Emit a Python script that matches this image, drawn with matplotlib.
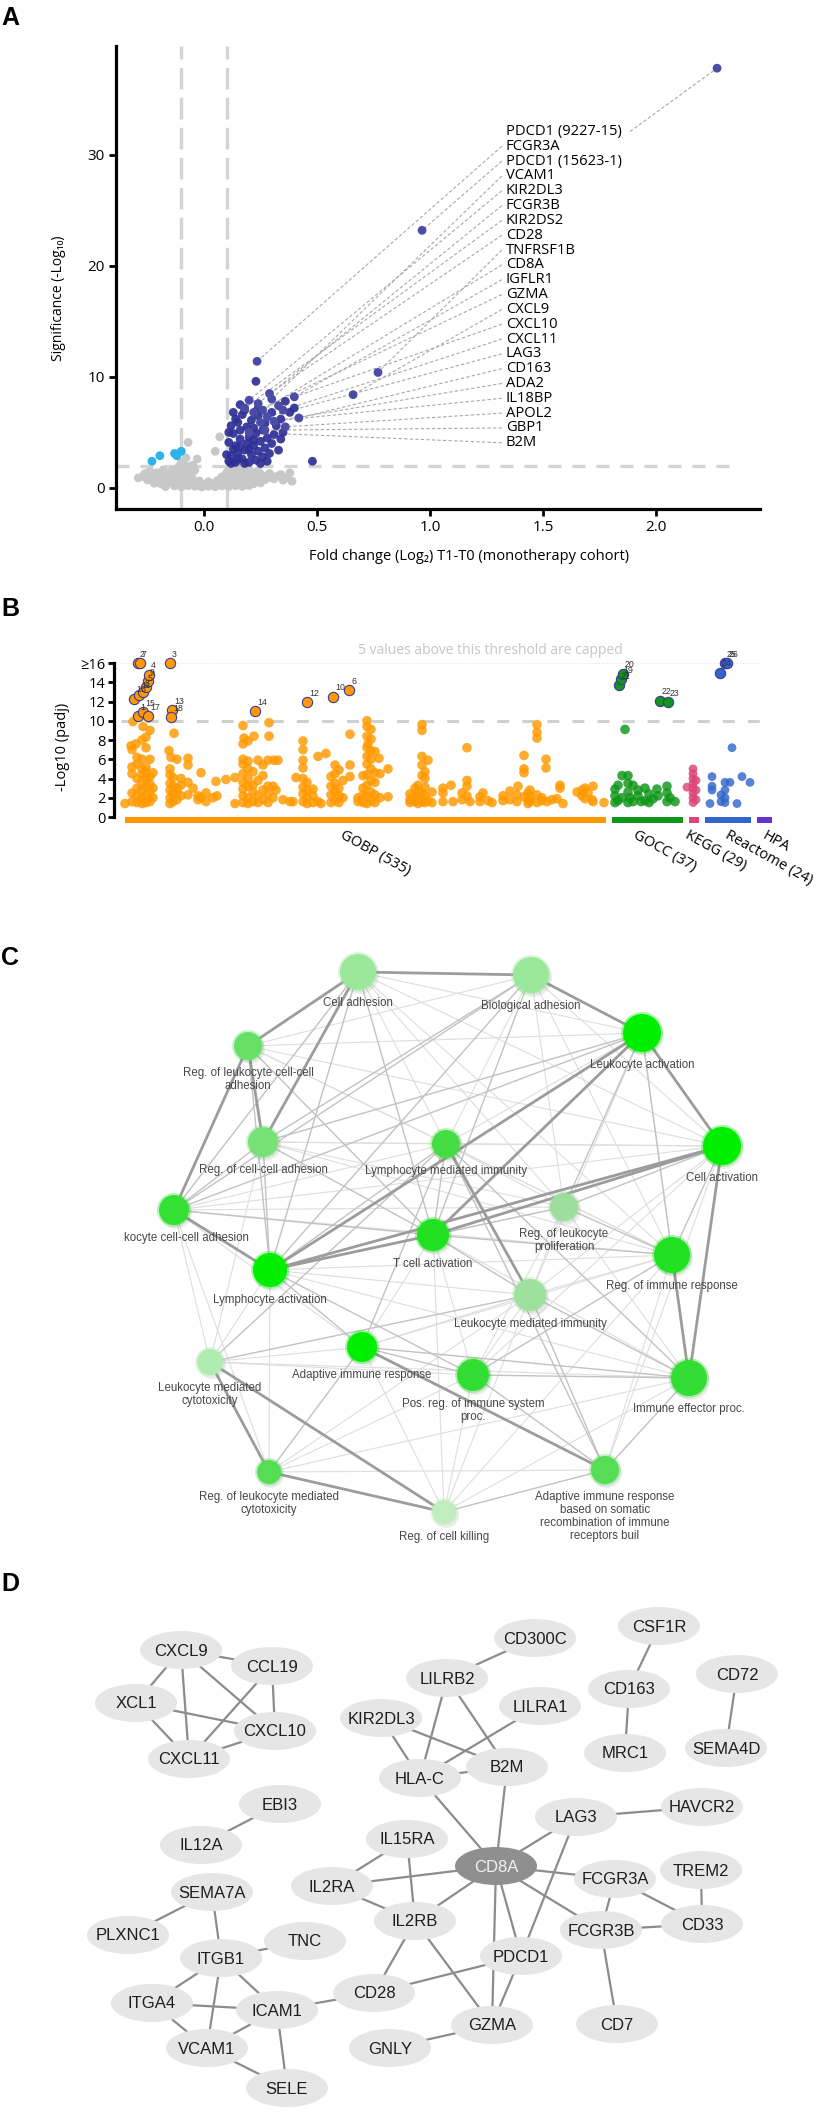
import matplotlib.pyplot as plt
from matplotlib.patches import Circle, Ellipse

W, H = 826, 2114
SANS = ['Open Sans', 'DejaVu Sans']
ARIAL = ['Liberation Sans', 'DejaVu Sans']
NARROW = ['Liberation Sans Narrow', 'Liberation Sans', 'DejaVu Sans']
plt.rcParams['font.family'] = SANS

# ---------------- A: volcano, fold change vs -log10 p ----------------
gray_pts = [
    (-0.17, 0.12), (-0.13, 0.18), (-0.10, 0.10), (-0.07, 0.20), (-0.04, 0.14), (-0.01, 0.08), (0.02, 0.15),
    (0.05, 0.10), (0.08, 0.18), (0.11, 0.12), (0.14, 0.20), (0.17, 0.14), (0.20, 0.22),
    (-0.22, 0.42), (-0.19, 0.35), (-0.16, 0.45), (-0.13, 0.40), (-0.10, 0.48), (-0.07, 0.38), (-0.04, 0.50),
    (0.00, 0.30), (0.04, 0.36), (0.07, 0.44), (0.10, 0.40), (0.13, 0.50), (0.16, 0.42), (0.19, 0.46),
    (0.22, 0.38), (0.25, 0.45),
    (-0.25, 0.72), (-0.21, 0.66), (-0.17, 0.75), (-0.14, 0.70), (-0.11, 0.78), (-0.08, 0.72), (-0.05, 0.80),
    (-0.02, 0.62), (0.06, 0.66), (0.09, 0.74), (0.12, 0.70), (0.15, 0.80), (0.18, 0.72), (0.21, 0.76),
    (0.24, 0.68), (0.27, 0.74), (0.31, 0.82), (0.35, 0.70), (0.39, 0.60),
    (-0.27, 1.05), (-0.23, 0.95), (-0.19, 1.02), (-0.15, 1.00), (-0.12, 1.10), (-0.09, 1.04), (-0.06, 1.15),
    (0.08, 1.00), (0.11, 1.08), (0.14, 1.02), (0.17, 1.12), (0.20, 1.05), (0.23, 0.98), (0.26, 1.06),
    (0.29, 0.95), (0.32, 1.02), (0.36, 0.88),
    (-0.26, 1.30), (-0.21, 1.36), (-0.16, 1.28), (-0.12, 1.40), (-0.08, 1.34), (-0.05, 1.45), (0.10, 1.35),
    (0.13, 1.42), (0.16, 1.30), (0.19, 1.38), (0.22, 1.32), (0.25, 1.25), (0.29, 1.30), (0.34, 1.20),
    (0.38, 1.35),
    (-0.18, 1.62), (-0.14, 1.58), (-0.10, 1.66), (-0.07, 1.70), (-0.04, 1.60), (0.11, 1.65), (0.14, 1.72),
    (0.17, 1.60), (0.20, 1.68), (0.24, 1.55),
    (-0.11, 1.92), (-0.08, 1.98), (-0.05, 2.05), (0.12, 1.95), (0.15, 1.90), (0.18, 1.88),
    (-0.10, 2.30), (-0.07, 4.10), (-0.08, 2.70), (0.07, 4.60), (0.05, 3.30), (-0.29, 0.90), (-0.24, 1.50),
    (-0.03, 2.60), (0.02, 0.55), (-0.02, 0.35),
]
up_pts = [
    (0.11, 2.4), (0.12, 2.9), (0.13, 3.5), (0.11, 4.1), (0.14, 2.3), (0.15, 3.1), (0.16, 4.4), (0.13, 4.9),
    (0.12, 5.6), (0.14, 6.2), (0.17, 2.6), (0.18, 3.4), (0.19, 4.0), (0.16, 5.2), (0.15, 5.9), (0.17, 6.6),
    (0.20, 2.3), (0.21, 3.0), (0.22, 3.8), (0.20, 4.6), (0.19, 5.5), (0.21, 6.1), (0.18, 7.0), (0.23, 2.5),
    (0.24, 3.3), (0.25, 4.2), (0.23, 4.9), (0.22, 5.4), (0.24, 6.5), (0.26, 2.8), (0.27, 3.6), (0.28, 4.5),
    (0.26, 5.2), (0.29, 3.1), (0.30, 4.0), (0.31, 4.8), (0.33, 3.4), (0.34, 4.4), (0.32, 5.6), (0.35, 5.0),
    (0.12, 2.2), (0.14, 3.8), (0.18, 2.2), (0.25, 2.2), (0.28, 2.4), (0.16, 3.7), (0.20, 3.5), (0.13, 6.8),
    (0.16, 7.5), (0.27, 5.8), (0.30, 6.8), (0.38, 6.8), (0.36, 7.8), (0.40, 7.2), (0.10, 3.0), (0.15, 2.6),
    (0.22, 4.3), (0.11, 5.0), (0.24, 7.2), (0.34, 6.2), (0.48, 2.4), (0.23, 9.6),
]
down_pts = [(-0.23, 2.4), (-0.195, 2.9), (-0.13, 3.1), (-0.10, 3.3), (-0.12, 2.9)]

genes = ['PDCD1 (9227-15)', 'FCGR3A', 'PDCD1 (15623-1)', 'VCAM1', 'KIR2DL3', 'FCGR3B', 'KIR2DS2',
         'CD28', 'TNFRSF1B', 'CD8A', 'IGFLR1', 'GZMA', 'CXCL9', 'CXCL10', 'CXCL11', 'LAG3', 'CD163',
         'ADA2', 'IL18BP', 'APOL2', 'GBP1', 'B2M']
gene_fc = [2.27, 0.235, 0.965, 0.30, 0.20, 0.24, 0.18, 0.29, 0.77, 0.26, 0.33, 0.22, 0.66, 0.40,
           0.35, 0.28, 0.42, 0.31, 0.25, 0.36, 0.27, 0.20]
gene_sig = [37.8, 11.4, 23.2, 8.0, 7.9, 7.6, 7.2, 8.5, 10.4, 7.0, 7.4, 6.8, 8.4, 8.2, 7.0, 6.4, 6.3,
            6.0, 5.9, 5.5, 5.2, 5.0]

# ---------------- B: enrichment Manhattan plot ----------------
sources = ['GOBP (535)', 'GOCC (37)', 'KEGG (29)', 'Reactome (24)', 'HPA']
src_colors = ['#ff9900', '#109618', '#dd4477', '#3366cc', '#6633cc']
src_span = [(12, 481), (499, 71), (576, 10), (592, 46), (644, 15)]

gobp_pts = [
    (12, 1.4), (19, 1.6), (19, 2.5), (19, 4.5), (19, 5.2), (19, 7.0), (18, 7.4), (20, 9.9),
    (24, 1.5), (24, 2.2), (24, 3.0), (24, 4.0), (24, 5.5), (24, 6.2), (23, 7.6),
    (29, 1.4), (29, 2.0), (29, 2.8), (29, 3.6), (29, 4.4), (29, 5.0), (29, 6.0), (29, 8.0), (30, 9.4),
    (33, 1.5), (33, 2.3), (33, 3.1), (33, 4.0), (33, 4.7), (33, 5.2), (33, 7.2), (33, 8.3),
    (37, 1.6), (37, 2.6), (37, 3.4), (37, 4.2), (37, 6.0), (37, 9.0), (40, 2.0), (40, 3.0), (40, 4.6),
    (57, 1.4), (57, 2.0), (57, 2.8), (57, 3.5), (57, 4.4), (57, 5.0), (56, 6.9), (58, 6.2),
    (60, 1.6), (60, 2.4), (60, 3.2), (60, 4.1), (61, 8.7), (64, 1.8), (64, 2.6), (64, 3.0), (64, 6.0),
    (68, 2.2), (68, 3.3), (68, 4.0), (75, 5.4), (75, 6.1), (75, 2.3), (75, 3.6),
    (80, 3.0), (85, 2.2), (85, 1.8), (88, 4.6), (88, 2.0), (93, 2.5), (93, 1.6), (100, 2.0), (104, 2.2),
    (103, 3.7), (113, 3.9), (122, 4.1), (122, 1.4),
    (130, 1.5), (130, 2.2), (130, 2.9), (130, 3.6), (130, 4.5), (130, 5.5), (130, 6.0), (130, 7.6),
    (131, 8.2), (130, 9.5), (135, 1.4), (135, 2.0), (135, 3.2), (135, 4.0), (135, 5.0), (135, 5.8),
    (135, 7.9), (140, 1.6), (140, 2.6), (140, 3.3), (140, 4.7), (141, 8.4), (145, 1.5), (145, 2.2),
    (145, 5.9), (145, 3.8), (150, 1.8), (150, 2.8), (150, 4.3), (150, 5.4),
    (155, 1.5), (155, 2.4), (155, 3.2), (155, 5.9), (156, 8.4), (156, 9.8),
    (160, 2.0), (160, 3.2), (161, 5.9), (165, 5.9), (163, 2.8), (170, 1.8), (177, 1.6), (180, 1.6), (183, 4.1),
    (190, 1.6), (190, 2.4), (190, 3.1), (190, 4.0), (190, 5.1), (190, 5.9), (190, 7.0), (190, 7.9),
    (194, 1.4), (194, 2.0), (194, 2.8), (194, 3.6), (200, 1.5), (200, 2.2), (200, 2.9), (205, 1.6),
    (205, 6.3), (213, 6.6), (208, 1.4),
    (218, 1.5), (218, 2.3), (218, 3.2), (218, 4.2), (222, 1.7), (222, 2.6), (222, 3.5), (222, 4.5),
    (222, 5.4), (226, 1.5), (226, 2.2), (226, 3.0), (226, 4.9), (230, 2.0), (230, 3.8),
    (237, 4.2), (237, 5.4), (237, 8.6), (245, 1.6), (245, 2.0), (250, 1.5), (250, 2.3), (250, 3.0), (250, 4.3),
    (254, 1.4), (254, 2.2), (254, 3.3), (254, 4.4), (254, 5.5), (254, 6.3), (254, 7.2), (255, 7.6),
    (254, 8.4), (254, 9.4), (254, 10.0),
    (258, 1.7), (258, 2.6), (258, 3.8), (258, 5.0), (258, 6.0), (258, 6.9), (258, 8.1), (258, 9.1),
    (262, 1.5), (262, 2.3), (262, 3.6), (262, 4.6), (262, 6.8), (267, 2.0), (267, 4.5), (266, 6.1),
    (275, 2.1), (275, 5.0),
    (297, 1.5), (297, 1.8), (297, 2.4), (302, 1.6), (302, 2.2), (302, 3.0), (305, 1.4), (305, 2.0),
    (305, 2.6), (305, 3.3), (309, 1.6), (309, 2.5), (309, 5.4), (309, 6.3), (309, 9.6), (309, 9.0),
    (309, 4.3), (312, 1.5), (312, 2.2), (312, 3.1), (312, 4.0), (312, 4.7), (315, 1.7), (315, 5.9),
    (319, 1.5), (319, 2.6), (330, 1.6), (330, 2.5), (330, 3.0), (338, 3.3), (340, 1.6),
    (349, 1.8), (349, 2.5), (354, 2.2), (354, 3.2), (354, 3.8), (354, 7.2), (357, 1.6), (367, 1.6),
    (367, 2.1), (370, 2.5), (375, 1.7), (379, 1.5), (390, 1.7), (390, 2.2), (397, 1.8), (397, 2.7),
    (404, 1.6), (404, 2.3), (405, 3.2), (411, 6.4), (411, 5.0), (411, 4.6), (411, 2.1),
    (415, 1.7), (415, 2.5), (415, 1.4), (417, 1.6), (417, 2.1), (417, 2.8),
    (424, 9.6), (424, 8.8), (424, 8.2), (424, 2.3), (424, 1.5), (429, 1.7), (429, 2.0), (433, 6.0),
    (433, 5.1), (434, 1.6), (439, 1.8), (444, 1.9), (447, 3.3), (447, 3.0), (450, 1.4),
    (464, 2.6), (469, 2.2), (469, 2.8), (472, 3.0), (472, 1.9), (475, 2.5), (480, 3.2), (480, 1.6),
    (479, 1.8), (491, 1.5),
]
gocc_pts = [(502, 1.5), (502, 2.2), (502, 2.9), (505, 1.7), (505, 3.3), (509, 4.3), (512, 9.1), (515, 4.3),
            (515, 3.5), (515, 2.6), (515, 1.5), (517, 2.0), (520, 3.3), (520, 1.6), (525, 2.2), (525, 2.8),
            (532, 3.0), (532, 1.7), (536, 1.5), (536, 2.4), (544, 2.9), (545, 2.2), (554, 3.2), (554, 2.5),
            (554, 1.6), (557, 2.0), (562, 1.6), (509, 2.0), (540, 1.9), (528, 1.6)]
kegg_pts = [(574, 3.1), (580, 1.5), (580, 2.0), (580, 2.5), (580, 3.0), (580, 3.5), (580, 4.0), (580, 4.5),
            (580, 5.0), (583, 1.8), (583, 2.8), (583, 3.8)]
reac_pts = [(597, 1.4), (599, 4.2), (599, 2.8), (599, 3.2), (612, 3.6), (612, 2.8), (612, 2.0), (612, 1.5),
            (617, 3.6), (619, 7.2), (624, 1.4), (629, 4.2), (637, 3.6), (608, 1.6), (608, 2.3)]
# highlighted terms (value capped at 16): x, y, id, source index
top_terms = [
    (25, 16, '2', 0), (27, 16, '7', 0), (57, 16, '3', 0),
    (21, 12.3, '16', 0), (26, 12.7, '11', 0), (30, 13.0, '8', 0), (33, 13.5, '5', 0), (35, 14.1, '9', 0),
    (36, 14.8, '4', 0), (25, 10.5, '1', 0), (30, 10.9, '15', 0), (35, 10.5, '17', 0),
    (59, 11.1, '13', 0), (58, 10.4, '18', 0), (142, 11.0, '14', 0), (194, 11.9, '12', 0),
    (220, 12.5, '10', 0), (236, 13.2, '6', 0),
    (506, 13.7, '21', 1), (508, 14.3, '19', 1), (510, 14.9, '20', 1), (547, 12.1, '22', 1), (555, 11.9, '23', 1),
    (607, 15.0, '24', 3), (612, 16, '25', 3), (614, 16, '26', 3),
]

# ---------------- C: GO term network ----------------
go_terms = ['Cell adhesion', 'Biological adhesion', 'Leukocyte activation',
            'Reg. of leukocyte cell-cell\nadhesion', 'Reg. of cell-cell adhesion',
            'Lymphocyte mediated immunity', 'Cell activation', 'kocyte cell-cell adhesion',
            'Reg. of leukocyte\nproliferation', 'T cell activation', 'Lymphocyte activation',
            'Reg. of immune response', 'Leukocyte mediated immunity', 'Adaptive immune response',
            'Leukocyte mediated\ncytotoxicity', 'Pos. reg. of immune system\nproc.', 'Immune effector proc.',
            'Reg. of leukocyte mediated\ncytotoxicity',
            'Adaptive immune response\nbased on somatic\nrecombination of immune\nreceptors buil',
            'Reg. of cell killing']
go_x = [358, 531, 642, 248, 263, 446, 722, 174, 564, 433, 270, 672, 530, 362, 210, 473, 689, 269, 605, 444]
go_y = [972, 975, 1033, 1046, 1142, 1144, 1146, 1210, 1207, 1235, 1270, 1255, 1295, 1347, 1362, 1375,
        1378, 1472, 1470, 1512]
go_r = [18, 18, 19, 14, 15, 14, 19, 15, 14, 16, 17, 18, 16, 15, 13, 16, 18, 12, 14, 12]
go_col = ['#9be89b', '#9be89b', '#00ee00', '#66e066', '#77e077', '#44dd44', '#00ee00', '#33e033',
          '#9ddd9d', '#22e022', '#00ee00', '#22e022', '#9ee09e', '#00ee00', '#b0ecb0', '#33dd33',
          '#33dd33', '#55dd55', '#55dd55', '#c0eec0']
go_label_dx = [0, 0, 0, 0, 0, 0, 0, 12, 0, 0, 0, 0, 0, 0, 0, 0, 0, 0, 0, 0]
strong_edges = [(0, 1), (2, 6), (3, 7), (3, 4), (7, 10), (10, 9), (17, 19), (14, 17), (2, 10), (0, 3),
                (0, 4), (1, 2), (5, 12), (13, 18), (9, 6), (10, 6), (6, 16), (11, 16), (14, 19), (2, 9)]
mid_edges = [(0, 7), (0, 10), (0, 9), (1, 9), (1, 10), (1, 7), (1, 4), (2, 11), (2, 8), (3, 10), (3, 9),
             (4, 7), (4, 9), (4, 10), (5, 9), (5, 10), (5, 13), (5, 14), (5, 16), (5, 18), (6, 11), (6, 8),
             (7, 9), (8, 9), (8, 11), (9, 11), (9, 12), (10, 13), (10, 15), (12, 16), (13, 15), (13, 16),
             (15, 16), (16, 18), (15, 18), (14, 12), (17, 13), (18, 19), (12, 18), (11, 15), (2, 7), (2, 4)]
weak_edges = [(0, 2), (0, 5), (0, 6), (0, 8), (0, 11), (1, 3), (1, 5), (1, 6), (1, 8), (1, 11), (2, 3),
              (2, 5), (2, 12), (2, 16), (3, 5), (3, 6), (3, 11), (4, 5), (4, 6), (4, 8), (4, 11), (5, 6),
              (5, 7), (5, 8), (5, 11), (6, 7), (6, 9), (6, 12), (6, 15), (7, 8), (7, 11), (7, 14), (7, 13),
              (8, 10), (8, 12), (8, 15), (9, 13), (9, 15), (9, 16), (10, 11), (10, 12), (10, 14), (10, 16),
              (10, 17), (11, 12), (11, 13), (11, 18), (12, 13), (12, 15), (12, 19), (13, 14), (13, 19),
              (14, 15), (14, 16), (15, 17), (15, 19), (16, 19), (17, 18), (7, 17), (4, 14), (6, 18),
              (11, 19), (16, 17), (9, 19), (12, 17), (8, 16)]

# ---------------- D: protein interaction network ----------------
ppi_genes = ['CXCL9', 'CCL19', 'XCL1', 'CXCL10', 'CXCL11', 'CD300C', 'CSF1R', 'LILRB2', 'CD163', 'CD72',
             'LILRA1', 'KIR2DL3', 'MRC1', 'SEMA4D', 'HLA-C', 'B2M', 'EBI3', 'LAG3', 'HAVCR2', 'IL12A',
             'IL15RA', 'CD8A', 'TREM2', 'FCGR3A', 'SEMA7A', 'IL2RA', 'IL2RB', 'FCGR3B', 'CD33', 'PLXNC1',
             'TNC', 'ITGB1', 'PDCD1', 'CD28', 'ITGA4', 'ICAM1', 'CD7', 'GZMA', 'GNLY', 'VCAM1', 'SELE']
ppi_x = [181, 272, 136, 275, 189, 535, 659, 447, 629, 737, 540, 381, 625, 726, 420, 507, 280, 576, 702,
         201, 407, 496, 701, 615, 212, 332, 415, 601, 702, 128, 305, 221, 521, 374, 152, 277, 617, 492,
         390, 207, 287]
ppi_y = [1650, 1666, 1703, 1731, 1759, 1638, 1626, 1678, 1689, 1674, 1706, 1718, 1753, 1748, 1778, 1767,
         1804, 1817, 1807, 1845, 1839, 1866, 1870, 1879, 1892, 1886, 1921, 1930, 1924, 1935, 1941, 1958,
         1956, 1993, 2003, 2010, 2024, 2025, 2048, 2048, 2088]
ppi_edges = [('CXCL9', 'CCL19'), ('CXCL9', 'XCL1'), ('CXCL9', 'CXCL11'), ('CXCL9', 'CXCL10'),
             ('CCL19', 'CXCL10'), ('CCL19', 'CXCL11'), ('XCL1', 'CXCL10'), ('XCL1', 'CXCL11'),
             ('CXCL10', 'CXCL11'), ('CD300C', 'LILRB2'), ('LILRB2', 'HLA-C'), ('LILRB2', 'B2M'),
             ('LILRA1', 'HLA-C'), ('KIR2DL3', 'HLA-C'), ('KIR2DL3', 'B2M'), ('HLA-C', 'B2M'),
             ('HLA-C', 'CD8A'), ('B2M', 'CD8A'), ('CSF1R', 'CD163'), ('CD163', 'MRC1'), ('CD72', 'SEMA4D'),
             ('EBI3', 'IL12A'), ('LAG3', 'HAVCR2'), ('LAG3', 'CD8A'), ('LAG3', 'PDCD1'),
             ('IL15RA', 'IL2RA'), ('IL15RA', 'IL2RB'), ('IL2RA', 'CD8A'), ('IL2RA', 'IL2RB'),
             ('IL2RB', 'CD8A'), ('CD8A', 'FCGR3A'), ('CD8A', 'FCGR3B'), ('CD8A', 'PDCD1'), ('CD8A', 'GZMA'),
             ('FCGR3A', 'FCGR3B'), ('FCGR3A', 'CD33'), ('TREM2', 'CD33'), ('FCGR3B', 'CD33'),
             ('FCGR3B', 'CD7'), ('IL2RB', 'CD28'), ('IL2RB', 'GZMA'), ('CD28', 'PDCD1'), ('PDCD1', 'GZMA'),
             ('GZMA', 'GNLY'), ('CD28', 'ICAM1'), ('SEMA7A', 'PLXNC1'), ('SEMA7A', 'ITGB1'), ('ITGB1', 'TNC'),
             ('ITGB1', 'ITGA4'), ('ITGB1', 'ICAM1'), ('ITGB1', 'VCAM1'), ('ITGA4', 'ICAM1'),
             ('ITGA4', 'VCAM1'), ('ICAM1', 'VCAM1'), ('ICAM1', 'SELE'), ('VCAM1', 'SELE')]
hub_gene = 'CD8A'


fig = plt.figure(figsize=(W / 100, H / 100), dpi=100)


def px_axes(l, t, r, b):
    return fig.add_axes([l / W, 1 - b / H, (r - l) / W, (b - t) / H])


for letter, top in [('A', 6), ('B', 597), ('C', 946), ('D', 1572)]:
    fig.text(1 / W, 1 - top / H, letter, fontsize=18, fontweight='bold', family=ARIAL, va='top', ha='left')

# ---- panel A ----
ax = px_axes(116, 46, 760, 509)
ax.set_xlim(-0.389, 2.46)
ax.set_ylim(-1.9, 39.8)
ax.spines[['top', 'right']].set_visible(False)
ax.spines[['left', 'bottom']].set_linewidth(2.3)
ax.set_xticks([0.0, 0.5, 1.0, 1.5, 2.0])
ax.set_xticklabels(['0.0', '0.5', '1.0', '1.5', '2.0'])
ax.set_yticks([0, 10, 20, 30])
ax.tick_params(width=2, length=5, labelsize=11, pad=3)
for xv in (-0.1, 0.1):
    ax.axvline(xv, color='#d4d4d4', lw=2.4, dashes=(6.5, 2.5), zorder=0)
ax.plot([-0.389, 2.35], [2, 2], color='#d4d4d4', lw=2.4, dashes=(3.9, 3.3), zorder=0)

gx, gy = zip(*gray_pts)
ax.scatter(gx, gy, s=40, c='#c8c8c8', edgecolors='none', zorder=1)
ux, uy = zip(*up_pts)
ax.scatter(ux, uy, s=40, c='#2e2f96', alpha=0.92, edgecolors='none', zorder=2)
dx_, dy_ = zip(*down_pts)
ax.scatter(dx_, dy_, s=40, c='#2bb3ea', edgecolors='none', zorder=2)

label_x = 1.336
for i, (g, fx, fy) in enumerate(zip(genes, gene_fc, gene_sig)):
    ly = 32.1 - i * 1.335
    start = 1.885 if i == 0 else 1.318
    ax.plot([start, fx], [ly, fy], color='#a8a8a8', lw=0.8, dashes=(3, 2), zorder=1.5)
    ax.text(label_x, ly, g, fontsize=10.6, va='center', ha='left')
ax.scatter(gene_fc, gene_sig, s=40, c='#4a4ca6', edgecolors='none', zorder=3)

fig.text(469 / W, 1 - 556 / H, 'Fold change (Log₂) T1-T0 (monotherapy cohort)', fontsize=10.5,
         ha='center', va='center')
fig.text(58 / W, 1 - 298 / H, 'Significance (-Log₁₀)', fontsize=10, rotation=90, ha='center', va='center')

# ---- panel B ----
bx = px_axes(114, 640, 780, 830)
bx.set_xlim(1, 667)
bx.set_ylim(-1.35, 18.39)
bx.spines[['top', 'right', 'bottom']].set_visible(False)
bx.spines['left'].set_linewidth(2.3)
bx.spines['left'].set_bounds(0, 16)
bx.set_xticks([])
bx.set_yticks([0, 2, 4, 6, 8, 10, 12, 14, 16])
bx.set_yticklabels(['0', '2', '4', '6', '8', '10', '12', '14', '≥16'])
bx.tick_params(axis='y', width=2, length=4, labelsize=10.5, pad=2)

bx.plot([8, 647], [10, 10], color='#d0d0d0', lw=2.2, dashes=(3.9, 4.3), zorder=0)
bx.plot([8, 647], [16, 16], color='#e4e4e4', lw=0.8, ls=':', zorder=0)
bx.text(377, 17.35, '5 values above this threshold are capped', color='#c6c6c6', fontsize=10,
        ha='center', va='center')

for pts, col, sz in [(gobp_pts, src_colors[0], 48), (gocc_pts, src_colors[1], 48),
                     (kegg_pts, src_colors[2], 40), (reac_pts, src_colors[3], 40)]:
    px_, py_ = zip(*pts)
    bx.scatter(px_, py_, s=sz, c=col, alpha=0.82, edgecolors='none', zorder=2)

for tx, ty, tid, si in top_terms:
    bx.scatter([tx], [ty], s=55, c=src_colors[si], edgecolors='#3a3a9a', linewidths=0.8, zorder=3)
    bx.text(tx + 2, ty + 0.45, tid, fontsize=6.3, color='#333333', ha='left', va='bottom',
            family=ARIAL, zorder=4)

cat_label_x = [232, 525, 577, 617, 654]
for name, col, (x0, w), lx in zip(sources, src_colors, src_span, cat_label_x):
    bx.broken_barh([(x0, w)], (-0.65, 0.65), facecolors=col, zorder=1)
    bx.text(lx, -1.15, name, rotation=-29, rotation_mode='anchor', ha='left', va='top',
            fontsize=10.5, clip_on=False)

fig.text(62 / W, 1 - 747 / H, '-Log10 (padj)', fontsize=10.5, rotation=90, ha='center', va='center')

# ---- panels C and D share one pixel-space canvas ----
nx = px_axes(0, 930, W, H)
nx.set_xlim(0, W)
nx.set_ylim(H, 930)
nx.axis('off')

for edges, col, lw in [(weak_edges, '#dedede', 0.8), (mid_edges, '#c2c2c2', 1.0), (strong_edges, '#9c9c9c', 2.0)]:
    for a, b in edges:
        nx.plot([go_x[a], go_x[b]], [go_y[a], go_y[b]], color=col, lw=lw, zorder=1, solid_capstyle='round')

for i, term in enumerate(go_terms):
    x, y, r, c = go_x[i], go_y[i], go_r[i], go_col[i]
    nx.add_patch(Circle((x + 2, y + 3), r + 1, color='#000000', alpha=0.07, lw=0, zorder=2))
    nx.add_patch(Circle((x, y), r + 2, color=c, alpha=0.35, lw=0, zorder=2))
    nx.add_patch(Circle((x, y), r, color=c, lw=0, zorder=3))
    nx.text(x + go_label_dx[i], y + r + 7, term, fontsize=8.3, family=ARIAL, color='#474747',
            ha='center', va='top', linespacing=1.1, zorder=4)

pos = {g: (x, y) for g, x, y in zip(ppi_genes, ppi_x, ppi_y)}
for a, b in ppi_edges:
    nx.plot([pos[a][0], pos[b][0]], [pos[a][1], pos[b][1]], color='#8c8c8c', lw=1.6, zorder=5)
for g in ppi_genes:
    x, y = pos[g]
    hub = g == hub_gene
    nx.add_patch(Ellipse((x, y), 82, 38, facecolor='#8f8f8f' if hub else '#e6e6e6', lw=0, zorder=6))
    nx.text(x, y + 1, g, fontsize=12, family=NARROW, color='#f2f2f2' if hub else '#1e1e1e',
            ha='center', va='center', zorder=7)

fig.savefig('out.png', dpi=100)
